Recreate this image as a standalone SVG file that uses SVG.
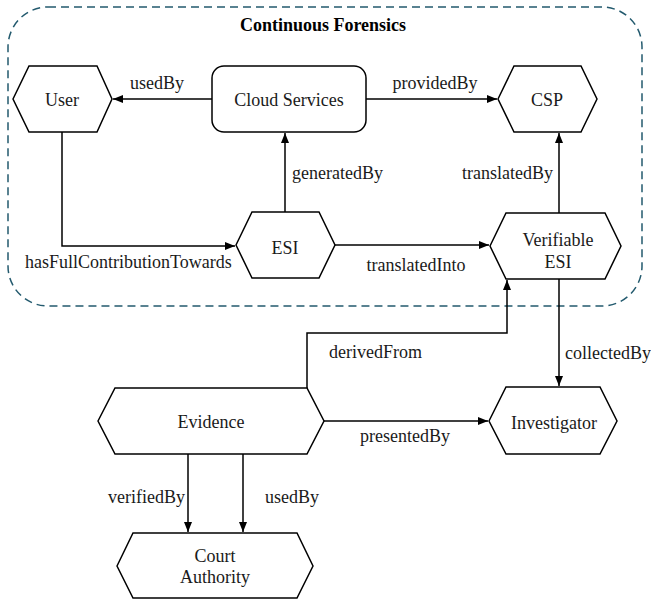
<svg xmlns="http://www.w3.org/2000/svg" width="651" height="599" viewBox="0 0 651 599">
<style>
.node{fill:#fff;stroke:#000;stroke-width:1.5}
.t{font-family:'Liberation Serif','DejaVu Serif',serif;font-size:18px;fill:#1a1a1a}
.c{text-anchor:middle}
.e{text-anchor:end}
.conn{fill:none;stroke:#000;stroke-width:1.5}
.title{font-family:'Liberation Serif','DejaVu Serif',serif;font-size:18px;font-weight:bold;text-anchor:middle;fill:#000}
</style>
<defs>
<marker id="arr" markerUnits="userSpaceOnUse" markerWidth="11" markerHeight="9" refX="10" refY="4" orient="auto">
<path d="M0,0 L10,4 L0,8 z" fill="#000"/>
</marker>
</defs>
<rect fill="#fff" x="0" y="0" width="651" height="599"/>
<g id="continuous-forensics">
<rect x="8" y="7" width="634" height="299" rx="40" ry="40" fill="none" stroke="#235a6e" stroke-width="1.5" stroke-dasharray="8,5"/>
<text class="title" font-family="Liberation Serif, serif" x="323" y="31">Continuous Forensics</text>
</g>
<g id="connectors" font-family="Liberation Serif, serif">
<line class="conn" x1="212" y1="99" x2="113" y2="99" marker-end="url(#arr)"/>
<line class="conn" x1="366" y1="99" x2="497" y2="99" marker-end="url(#arr)"/>
<line class="conn" x1="285" y1="212" x2="285" y2="133" marker-end="url(#arr)"/>
<line class="conn" x1="559" y1="213" x2="559" y2="133" marker-end="url(#arr)"/>
<polyline class="conn" points="62,132 62,246 235,246" marker-end="url(#arr)"/>
<line class="conn" x1="335" y1="245" x2="489" y2="245" marker-end="url(#arr)"/>
<line class="conn" x1="559" y1="279" x2="559" y2="386" marker-end="url(#arr)"/>
<polyline class="conn" points="307,388 307,333 507,333 507,280" marker-end="url(#arr)"/>
<line class="conn" x1="324" y1="421" x2="488" y2="421" marker-end="url(#arr)"/>
<line class="conn" x1="188" y1="454" x2="188" y2="532" marker-end="url(#arr)"/>
<line class="conn" x1="243" y1="454" x2="243" y2="532" marker-end="url(#arr)"/>
<text class="t c" x="157" y="89">usedBy</text>
<text class="t c" x="435" y="89">providedBy</text>
<text class="t" x="292" y="179">generatedBy</text>
<text class="t e" x="553" y="179">translatedBy</text>
<text class="t" x="25" y="268">hasFullContributionTowards</text>
<text class="t c" x="416" y="271">translatedInto</text>
<text class="t" x="329" y="358">derivedFrom</text>
<text class="t" x="565" y="359">collectedBy</text>
<text class="t" x="360" y="442">presentedBy</text>
<text class="t" x="108" y="503">verifiedBy</text>
<text class="t" x="265" y="503">usedBy</text>
</g>
<g id="user" font-family="Liberation Serif, serif">
<polygon class="node" points="13,99 29,66 97,66 112,99 97,132 29,132"/>
<text class="t c" x="62" y="106">User</text>
</g>
<g id="cloud-services" font-family="Liberation Serif, serif">
<rect class="node" x="212" y="66" width="154" height="66" rx="12" ry="12"/>
<text class="t c" x="289" y="106">Cloud Services</text>
</g>
<g id="csp" font-family="Liberation Serif, serif">
<polygon class="node" points="498,99 514,66 581,66 597,99 581,132 514,132"/>
<text class="t c" x="547" y="106">CSP</text>
</g>
<g id="esi" font-family="Liberation Serif, serif">
<polygon class="node" points="236,245 252,212 319,212 335,245 319,278 252,278"/>
<text class="t c" x="285" y="254">ESI</text>
</g>
<g id="verifiable-esi" font-family="Liberation Serif, serif">
<polygon class="node" points="490,246 506,213 605,213 621,246 605,279 506,279"/>
<text class="t c" x="558" y="246">Verifiable</text>
<text class="t c" x="558" y="268">ESI</text>
</g>
<g id="evidence" font-family="Liberation Serif, serif">
<polygon class="node" points="98,421 115,388 307,388 324,421 307,454 115,454"/>
<text class="t c" x="211" y="428">Evidence</text>
</g>
<g id="investigator" font-family="Liberation Serif, serif">
<polygon class="node" points="489,421 506,387 600,387 617,421 600,454 506,454"/>
<text class="t c" x="554" y="429">Investigator</text>
</g>
<g id="court-authority" font-family="Liberation Serif, serif">
<polygon class="node" points="117,566 133,533 297,533 313,566 297,598 133,598"/>
<text class="t c" x="215" y="562">Court</text>
<text class="t c" x="215" y="583">Authority</text>
</g>
</svg>
